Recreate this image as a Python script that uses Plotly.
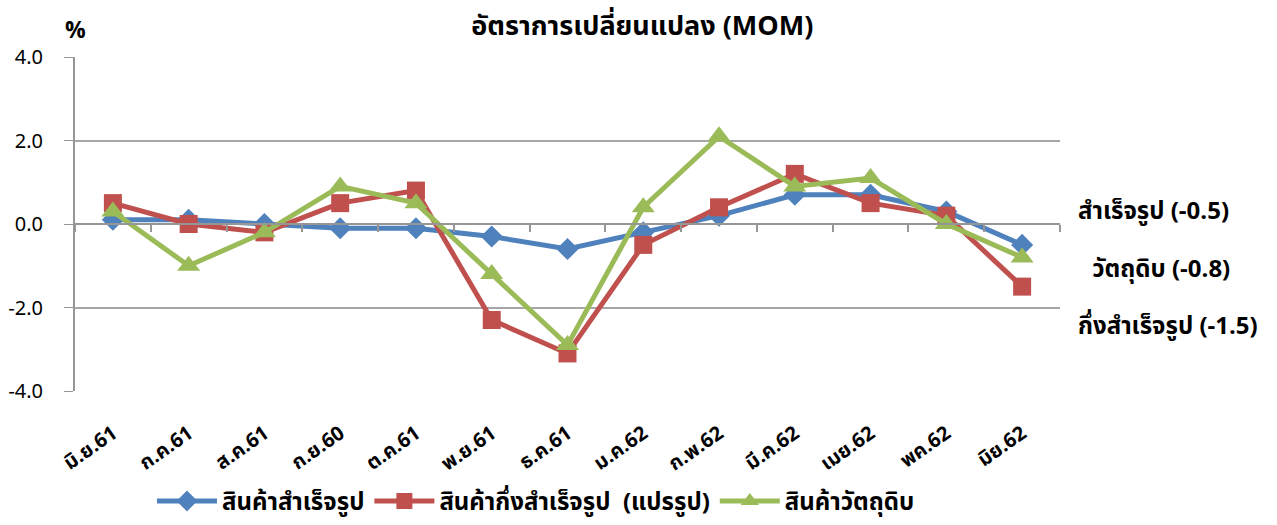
import plotly.graph_objects as go

categories = ["มิ.ย.61", "ก.ค.61", "ส.ค.61", "ก.ย.60", "ต.ค.61", "พ.ย.61", "ธ.ค.61",
              "ม.ค.62", "ก.พ.62", "มี.ค.62", "เมย.62", "พค.62", "มิย.62"]
finished = [0.1, 0.1, 0.0, -0.1, -0.1, -0.3, -0.6, -0.2, 0.2, 0.7, 0.7, 0.3, -0.5]
semi = [0.5, 0.0, -0.2, 0.5, 0.8, -2.3, -3.1, -0.5, 0.4, 1.2, 0.5, 0.2, -1.5]
raw = [0.3, -1.0, -0.2, 0.9, 0.5, -1.2, -2.9, 0.4, 2.1, 0.9, 1.1, 0.0, -0.8]
names = ["สินค้าสำเร็จรูป", "สินค้ากึ่งสำเร็จรูป  (แปรรูป)", "สินค้าวัตถุดิบ"]
side_labels = ["สำเร็จรูป (-0.5)", " วัตถุดิบ (-0.8)", "กึ่งสำเร็จรูป (-1.5)"]
yticks = [-4, -2, 0, 2, 4]

# label layout (paper y positions and x shifts in px)
side_pos_y = [0.536, 0.362, 0.192]
side_xshift = [16, 24, 16]

FONT = "Tahoma, 'Noto Sans Thai', 'Loma', 'Garuda', sans-serif"
colors = ["#4F81BD", "#C0504D", "#9BBB59"]
symbols = ["diamond", "square", "triangle-up"]
sizes = [17, 18, 20]

fig = go.Figure()
for vals, name, c, s, sz in zip([finished, semi, raw], names, colors, symbols, sizes):
    fig.add_trace(go.Scatter(
        x=categories, y=vals, name="<b>%s</b>" % name, mode="lines+markers",
        line=dict(color=c, width=5),
        marker=dict(symbol=s, size=sz, color=c),
    ))

# invisible trace hosting the secondary x-axis (axis line + ticks at y=0)
fig.add_trace(go.Scatter(x=categories, y=[None] * len(categories), xaxis="x2",
                         showlegend=False, hoverinfo="skip"))

for lab, py, xs in zip(side_labels, side_pos_y, side_xshift):
    fig.add_annotation(x=1.0, xref="paper", y=py, yref="paper", text="<b>%s</b>" % lab,
                       showarrow=False, xanchor="left", yanchor="middle", xshift=xs,
                       font=dict(size=24, color="black", family=FONT))

fig.add_annotation(x=0.0, xref="paper", y=1.0, yref="paper", yshift=26,
                   text="<b>%</b>", showarrow=False, xanchor="center", yanchor="middle",
                   font=dict(size=23, color="black", family=FONT))

fig.update_layout(
    width=1277, height=525,
    margin=dict(l=75, r=217, t=57, b=134, autoexpand=False),
    paper_bgcolor="white", plot_bgcolor="white",
    title=dict(text="<b>อัตราการเปลี่ยนแปลง (MOM)</b>", x=0.503, xanchor="center",
               yref="container", y=0.952, yanchor="middle",
               font=dict(size=27, color="black", family=FONT)),
    font=dict(family=FONT, color="black"),
    xaxis=dict(
        type="category", showgrid=False, zeroline=False, showline=False,
        ticks="", tickangle=-35, tickfont=dict(size=20, family=FONT),
        range=[-0.5, len(categories) - 0.5], automargin=False,
        tickprefix="<b>", ticksuffix="</b>", ticklabelstandoff=26,
    ),
    xaxis2=dict(
        type="category", overlaying="x", matches="x", anchor="free", position=0.5,
        showline=True, linecolor="#969696", linewidth=2,
        ticks="outside", ticklen=7, tickcolor="#969696", tickwidth=1.5,
        tickson="boundaries", showticklabels=False, showgrid=False, zeroline=False,
        side="bottom", automargin=False,
    ),
    yaxis=dict(
        range=[-4, 4], tickvals=yticks, tickformat=".1f",
        showgrid=True, gridcolor="#a6a6a6", gridwidth=2,
        zeroline=False, showline=True, linecolor="#969696", linewidth=2,
        ticks="outside", ticklen=9, tickcolor="#969696", automargin=False,
        tickfont=dict(size=20, family=FONT), tickprefix="<b>", ticksuffix="</b>",
        ticklabelstandoff=17,
    ),
    legend=dict(orientation="h", x=0.468, xanchor="center",
                yref="container", y=0.045, yanchor="middle",
                font=dict(size=24, family=FONT), itemwidth=60,
                bgcolor="rgba(0,0,0,0)"),
    showlegend=True,
)

fig.write_html("out.html", config={"displayModeBar": False})

# remove the browser's default body margin so the figure fills the window exactly
with open("out.html", "r", encoding="utf-8") as f:
    html = f.read()
html = html.replace("<head>", "<head><style>html,body{margin:0;padding:0;overflow:hidden;}</style>", 1)
with open("out.html", "w", encoding="utf-8") as f:
    f.write(html)
